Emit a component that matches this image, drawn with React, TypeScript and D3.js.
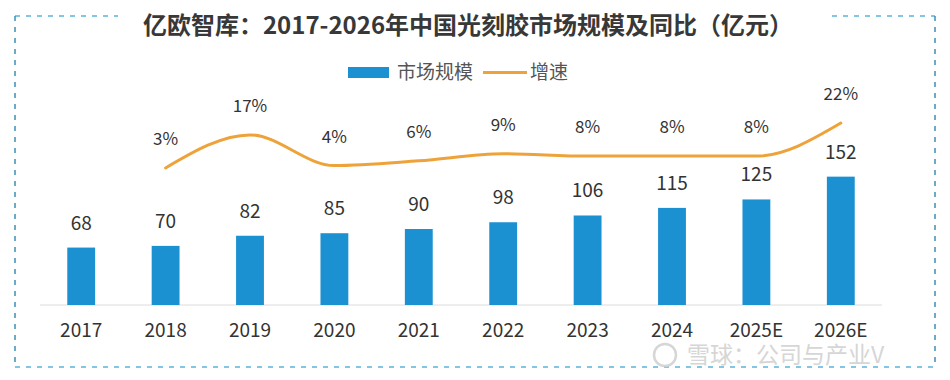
import React from "react";
import * as d3 from "d3";

const categories = ["2017", "2018", "2019", "2020", "2021", "2022", "2023", "2024", "2025E", "2026E"];
const marketSize = [68, 70, 82, 85, 90, 98, 106, 115, 125, 152];
const growthCategories = ["2018", "2019", "2020", "2021", "2022", "2023", "2024", "2025E", "2026E"];
const growthRate = [3, 17, 4, 6, 9, 8, 8, 8, 22];
const title = "亿欧智库：2017-2026年中国光刻胶市场规模及同比（亿元）";
const legendBar = "市场规模";
const legendLine = "增速";

const W = 950;
const H = 380;
const FONT = "'Noto Sans CJK SC', 'Noto Sans', sans-serif";

export default function App() {
  const x = d3.scaleBand<string>().domain(categories).range([39, 883]).paddingInner(0.67).paddingOuter(0.335);
  const y = d3.scaleLinear().domain([0, 180]).range([305, 153]);
  const yr = d3.scaleLinear().domain([0, 25]).range([175, 116]);
  const cx = (c: string) => (x(c) as number) + x.bandwidth() / 2;

  const lineGen = d3
    .line<number>()
    .x((_, i) => cx(growthCategories[i]))
    .y((d) => yr(d))
    .curve(d3.curveMonotoneX);

  const borderBlue = "#5ab4dc";
  const borderDark = "#3d8fb5";

  return (
    <svg width={W} height={H} style={{ position: "absolute", left: 0, top: 0, background: "#fff" }}>
      <rect x={0} y={0} width={W} height={H} fill="#fff" />
      {/* dashed frame */}
      <line x1={15} y1={16} x2={118} y2={16} stroke={borderBlue} strokeWidth={1.5} strokeDasharray="5 6" />
      <line x1={832} y1={16} x2={935} y2={16} stroke={borderBlue} strokeWidth={1.5} strokeDasharray="5 6" />
      <line x1={15} y1={367} x2={935} y2={367} stroke={borderBlue} strokeWidth={1.5} strokeDasharray="5 6" />
      <line x1={15} y1={16} x2={15} y2={367} stroke={borderDark} strokeWidth={1.5} strokeDasharray="5 6" />
      <line x1={935} y1={16} x2={935} y2={367} stroke={borderDark} strokeWidth={1.5} strokeDasharray="5 6" />

      {/* title */}
      <text x={468} y={34} textAnchor="middle" fontFamily={FONT} fontWeight={700} fontSize={24} fill="#383838">
        {title}
      </text>

      {/* legend */}
      <rect x={348} y={67} width={41} height={11} fill="#1b91d1" />
      <text x={397} y={79} fontFamily={FONT} fontSize={19} fill="#555">
        {legendBar}
      </text>
      <line x1={483} y1={72.5} x2={527} y2={72.5} stroke="#eea33a" strokeWidth={3} />
      <text x={530} y={79} fontFamily={FONT} fontSize={19} fill="#555">
        {legendLine}
      </text>

      {/* baseline */}
      <line x1={40} y1={305} x2={882} y2={305} stroke="#dcdcdc" strokeWidth={1} />

      {/* bars */}
      {categories.map((c, i) => (
        <g key={c}>
          <rect x={x(c)} y={y(marketSize[i])} width={x.bandwidth()} height={y(0) - y(marketSize[i])} fill="#1b91d1" />
          <text
            x={cx(c)}
            y={y(marketSize[i]) - 18}
            textAnchor="middle"
            fontFamily={FONT}
            fontSize={19}
            fill="#333"
          >
            {marketSize[i]}
          </text>
          <text x={cx(c)} y={337} textAnchor="middle" fontFamily={FONT} fontSize={19} fill="#333">
            {c}
          </text>
        </g>
      ))}

      {/* growth line */}
      <path d={lineGen(growthRate) || ""} fill="none" stroke="#eea33a" strokeWidth={3} strokeLinecap="round" />
      {growthRate.map((v, i) => (
        <text
          key={growthCategories[i]}
          x={cx(growthCategories[i])}
          y={yr(v) - 23}
          textAnchor="middle"
          fontFamily={FONT}
          fontSize={17}
          fill="#333"
        >
          {v + "%"}
        </text>
      ))}

      {/* watermark */}
      <text x={687} y={363} fontFamily={FONT} fontSize={23} fill="#cfcfcf" opacity={0.85}>
        雪球：公司与产业V
      </text>
      <circle cx={665} cy={355} r={11} fill="none" stroke="#cfcfcf" strokeWidth={2.5} opacity={0.85} />
    </svg>
  );
}
